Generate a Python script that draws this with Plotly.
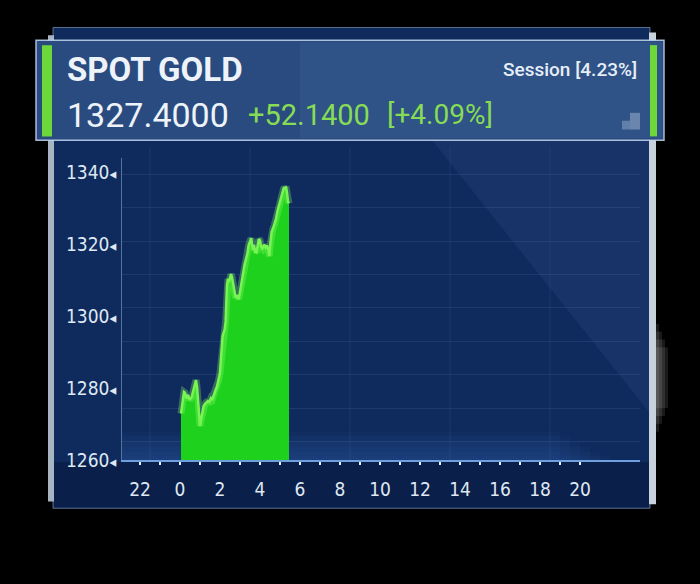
import plotly.graph_objects as go

W, H = 700, 584

# ---- data (hours relative to midnight, spot gold price) ----
hours = [0.05, 0.12, 0.20, 0.25, 0.32, 0.40, 0.48, 0.58, 0.65, 0.72,
         0.80, 0.85, 0.90, 0.95, 1.00, 1.06, 1.13, 1.18, 1.25, 1.33,
         1.40, 1.47, 1.55, 1.62, 1.70, 1.77, 1.85, 1.92, 2.00, 2.04,
         2.08, 2.13, 2.18, 2.23, 2.28, 2.31, 2.35, 2.40, 2.45, 2.50,
         2.55, 2.60, 2.66, 2.72, 2.78, 2.85, 2.92, 2.98, 3.05, 3.10,
         3.17, 3.23, 3.30, 3.37, 3.43, 3.50, 3.56, 3.60, 3.65, 3.70,
         3.76, 3.82, 3.88, 3.94, 4.00, 4.05, 4.12, 4.20, 4.28, 4.35,
         4.42, 4.47, 4.52, 4.58, 4.65, 4.72, 4.80, 4.88, 4.95, 5.02,
         5.08, 5.14, 5.20, 5.26, 5.30, 5.35, 5.40, 5.45]

price = [1273.0, 1276.5, 1279.0, 1278.8, 1277.2, 1278.2, 1276.8, 1277.5, 1279.0, 1280.5,
         1282.3, 1280.5, 1277.0, 1273.0, 1269.5, 1271.5, 1274.0, 1275.0, 1275.6, 1276.2,
         1276.5, 1276.2, 1277.3, 1277.0, 1278.6, 1279.4, 1280.5, 1282.0, 1284.3, 1287.5,
         1291.0, 1294.5, 1295.5, 1296.3, 1298.5, 1303.0, 1308.8, 1310.5, 1309.6, 1310.8,
         1311.8, 1311.0, 1309.0, 1306.5, 1305.2, 1306.0, 1304.8, 1306.2, 1308.5, 1310.8,
         1312.0, 1314.5, 1316.0, 1317.5, 1319.8, 1321.0, 1321.8, 1320.2, 1318.5, 1320.0,
         1318.0, 1317.8, 1319.5, 1321.5, 1321.2, 1319.5, 1319.0, 1320.0, 1319.2, 1319.8,
         1318.5, 1316.8, 1320.5, 1323.5, 1324.5, 1325.5, 1327.2, 1329.5, 1331.0, 1332.2,
         1333.5, 1334.8, 1336.0, 1335.6, 1336.2, 1334.5, 1332.0, 1331.5]

x_tick_vals = [-2, 0, 2, 4, 6, 8, 10, 12, 14, 16, 18, 20]
x_tick_text = ["22", "0", "2", "4", "6", "8", "10", "12", "14", "16", "18", "20"]
x_hour_marks = list(range(-2, 21))
y_tick_vals = [1260, 1280, 1300, 1320, 1340]
y_tick_text = [f"{v}<span style='font-size:15px'>◂</span>" for v in y_tick_vals]
grid_hours = [-1.5, 3.5, 8.5, 13.5, 18.5]

title_text = "SPOT GOLD"
last_price = "1327.4000"
change = "+52.1400"
change_pct = "[+4.09%]"
session = "Session [4.23%]"

NARROW = "DejaVu Sans Condensed, Roboto Condensed, Roboto, sans-serif"
HEAD = "Roboto, Open Sans, sans-serif"
GREEN_TXT = "#86dd55"


def px(x):
    return x / W


def py(y):
    return 1 - y / H


fig = go.Figure()

fig.add_trace(go.Scatter(
    x=hours, y=price, mode="lines", fill="tozeroy",
    fillcolor="#1dd11d", line=dict(color="#6cef48", width=2.5),
    hoverinfo="skip", showlegend=False))
fig.add_trace(go.Scatter(
    x=hours, y=price, mode="lines",
    line=dict(color="rgba(150,255,110,0.30)", width=7),
    hoverinfo="skip", showlegend=False))

shapes = []


def rect(x0, y0, x1, y1, fill, line=None, layer="below"):
    d = dict(type="rect", xref="paper", yref="paper",
             x0=px(x0), x1=px(x1), y0=py(y1), y1=py(y0),
             fillcolor=fill, layer=layer, line=dict(width=0))
    if line:
        d["line"] = line
    shapes.append(d)


# panel
rect(53, 28, 650, 518, "#0f2a5c", dict(color="rgba(160,185,220,0.55)", width=1))
# diagonal light band
shapes.append(dict(type="path", xref="paper", yref="paper", layer="below",
                   path=f"M {px(432)},{py(143)} L {px(649)},{py(143)} L {px(649)},{py(420)} Z",
                   fillcolor="rgba(95,135,205,0.10)", line=dict(width=0)))
# bottom glow (stacked thin layers)
for i in range(6):
    rect(122, 440 + i * 5, 560 + i * 10, 469, "rgba(70,140,225,0.045)")
rect(54, 471, 649, 517, "rgba(5,18,50,0.45)")
# silver edges
rect(48, 36, 54, 511, "#a7b4c2")
rect(649, 33, 656, 514, "#c7d2dd")
for i in range(4):
    rect(656, 330 + i * 8, 659 + i * 3, 440 - i * 8, "rgba(255,255,255,0.10)")
# header band
rect(36, 41, 664, 143, "#2a4b80", dict(color="rgba(195,215,238,0.85)", width=1.5))
rect(300, 43, 662, 141, "rgba(120,160,215,0.08)")
rect(42, 46, 52, 139, "#6cd83a")
rect(650, 46, 657, 139, "#6cd83a")
rect(622, 123, 630, 132, "rgba(195,212,235,0.35)")
rect(630, 115, 640, 132, "rgba(195,212,235,0.40)")

# faint vertical grid lines
for gh in grid_hours:
    shapes.append(dict(type="line", xref="x", yref="paper", x0=gh, x1=gh,
                       y0=py(469), y1=py(150), layer="below",
                       line=dict(color="rgba(120,160,225,0.12)", width=1)))

annotations = [
    dict(text=f"<b>{title_text}</b>", x=px(65), y=py(71), xanchor="left", yanchor="middle",
         font=dict(family=HEAD, size=33, color="#eef3fa")),
    dict(text=last_price, x=px(65), y=py(117), xanchor="left", yanchor="middle",
         font=dict(family=HEAD, size=34, color="#eef3fa")),
    dict(text=change, x=px(246), y=py(117), xanchor="left", yanchor="middle",
         font=dict(family=HEAD, size=29, color=GREEN_TXT)),
    dict(text=change_pct, x=px(385), y=py(117), xanchor="left", yanchor="middle",
         font=dict(family=HEAD, size=28, color=GREEN_TXT)),
    dict(text=session, x=px(639), y=py(71), xanchor="right", yanchor="middle",
         font=dict(family=HEAD, size=19, weight=500, color="#e6eef8")),
]
for a in annotations:
    a.update(xref="paper", yref="paper", showarrow=False)

fig.update_layout(
    width=W, height=H, autosize=False,
    margin=dict(l=0, r=0, t=0, b=0),
    paper_bgcolor="#000000", plot_bgcolor="rgba(0,0,0,0)",
    showlegend=False, shapes=shapes, annotations=annotations,
    xaxis=dict(domain=[px(122), px(640)], range=[-2.9, 23],
               tickmode="array", tickvals=x_tick_vals, ticktext=x_tick_text,
               ticks="outside", ticklen=3, tickwidth=2, tickcolor="#e8f0fa",
               minor=dict(tickvals=x_hour_marks, ticks="outside", ticklen=3,
                          tickwidth=2, tickcolor="#e8f0fa", showgrid=False),
               showgrid=False, zeroline=False,
               showline=True, linecolor="#6f9fdc", linewidth=2,
               tickfont=dict(family=NARROW, size=19, color="#dfe8f3"),
               ticklabelstandoff=8, fixedrange=True),
    yaxis=dict(domain=[py(469), py(161.5)], range=[1260, 1344],
               tickmode="array", tickvals=y_tick_vals, ticktext=y_tick_text,
               ticks="", showgrid=False, zeroline=False,
               minor=dict(tick0=1274.5, dtick=9.3, showgrid=True,
                          gridcolor="rgba(120,160,225,0.13)", gridwidth=1, ticks=""),
               showline=True, linecolor="rgba(160,185,225,0.5)", linewidth=1,
               tickfont=dict(family=NARROW, size=19, color="#dfe8f3"),
               ticklabelstandoff=1, fixedrange=True),
)

fig.write_html(
    "out.html",
    config=dict(displayModeBar=False, responsive=False),
    post_script="document.body.style.margin='0';document.body.style.background='#000';"
                "document.documentElement.style.background='#000';",
)
